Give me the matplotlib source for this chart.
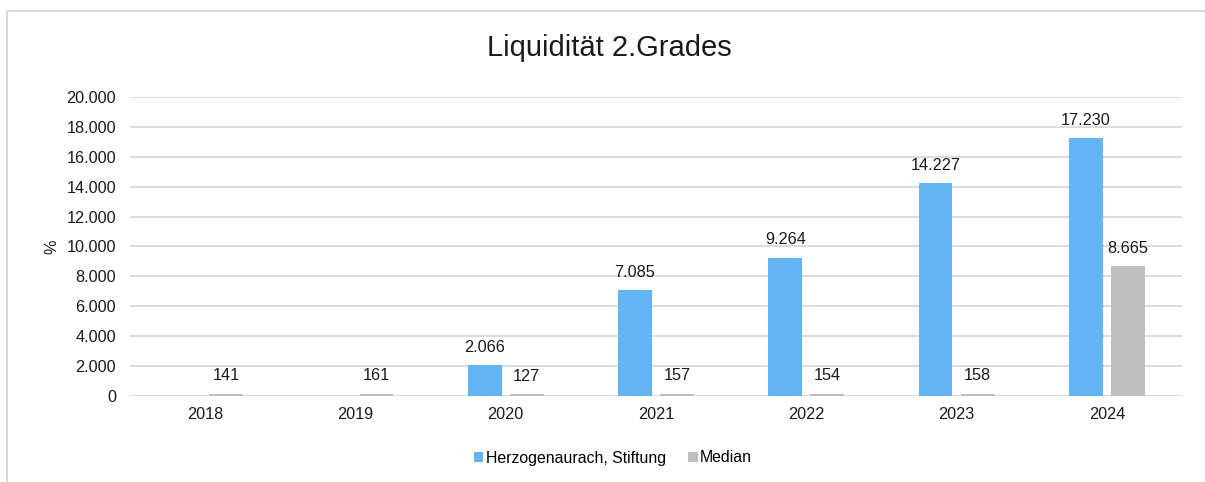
import numpy as np
import matplotlib.pyplot as plt
from matplotlib.lines import Line2D

years = ['2018', '2019', '2020', '2021', '2022', '2023', '2024']
stiftung = [np.nan, np.nan, 2066, 7085, 9264, 14227, 17230]
median = [141, 161, 127, 157, 154, 158, 8665]
yticks = [0, 2000, 4000, 6000, 8000, 10000, 12000, 14000, 16000, 18000, 20000]

BLUE = '#63B5F6'
GREY = '#BFBFBF'


def de_fmt(v):
    return f'{int(round(v)):,}'.replace(',', '.')


def main():
    plt.rcParams['font.family'] = ['Liberation Sans', 'DejaVu Sans']
    fig = plt.figure(figsize=(12.05, 4.82), dpi=100)
    ax = fig.add_axes([130 / 1205, 1 - 396 / 482, (1182 - 130) / 1205, (396 - 97) / 482])

    # outer chart frame (only top and left edges are inside the picture)
    fx, fy = 7.5 / 1205, 1 - 10.5 / 482
    fig.add_artist(Line2D([fx, fx, 1.0], [0.0, fy, fy], transform=fig.transFigure,
                          color='#D9D9D9', linewidth=1.5))

    x = np.arange(len(years))
    w = 0.225
    off = 0.14
    ax.bar(x - off, stiftung, w, color=BLUE, label='Herzogenaurach, Stiftung', zorder=3)
    ax.bar(x + off, median, w, color=GREY, label='Median', zorder=3)

    for xi, v in zip(x, stiftung):
        if not np.isnan(v):
            ax.text(xi - off, v + 700, de_fmt(v), ha='center', va='bottom', fontsize=11.7, color='#1a1a1a')
    for xi, v in zip(x, median):
        ax.text(xi + off, v + 700, de_fmt(v), ha='center', va='bottom', fontsize=11.7, color='#1a1a1a')

    ax.set_xlim(-0.5, len(years) - 0.5)
    ax.set_ylim(0, 20000)
    ax.set_yticks(yticks)
    ax.set_yticklabels([de_fmt(t) for t in yticks])
    ax.set_xticks(x)
    ax.set_xticklabels(years)
    ax.tick_params(axis='both', length=0, labelsize=11.7, colors='#1a1a1a')
    ax.tick_params(axis='y', pad=10)
    ax.tick_params(axis='x', pad=8)
    ax.grid(axis='y', color='#D9D9D9', linewidth=1.3, zorder=0)
    for s in ax.spines.values():
        s.set_visible(False)

    ax.set_ylabel('%', fontsize=11.7, color='#1a1a1a')
    ax.yaxis.set_label_coords(-71 / 1052, 0.5)

    fig.text(609 / 1205, 1 - 48 / 482, 'Liquidität 2.Grades', ha='center', va='center',
             fontsize=21, color='#1a1a1a')

    fig.legend(loc='center', bbox_to_anchor=(613 / 1205, 1 - 458 / 482), ncol=2,
               frameon=False, fontsize=11.4, handlelength=0.6, handleheight=0.6,
               handletextpad=0.15, columnspacing=1.4)

    plt.savefig('out.png', dpi=100)


if __name__ == '__main__':
    main()
